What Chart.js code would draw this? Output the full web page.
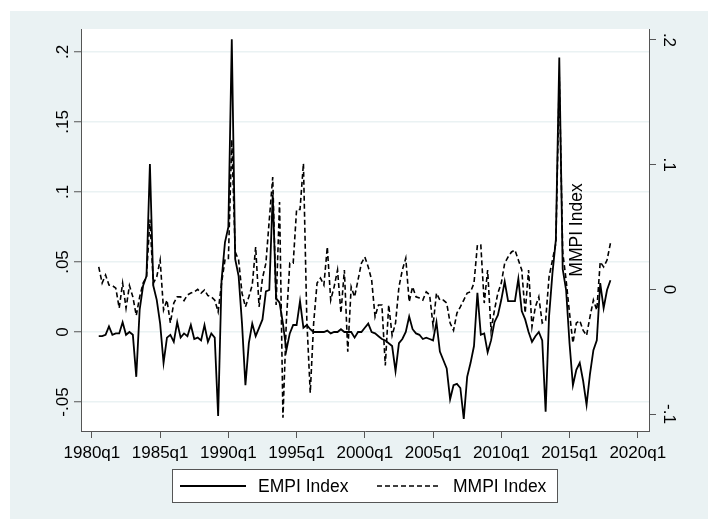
<!DOCTYPE html>
<html>
<head>
<meta charset="utf-8">
<script src="https://cdn.jsdelivr.net/npm/chart.js@4.4.1/dist/chart.umd.min.js"></script>
<style>
  html, body { margin: 0; padding: 0; background: #fff; }
  canvas { display: block; }
</style>
</head>
<body>
<canvas id="c" width="708" height="519"></canvas>
<script>
// quarterly series, first point is 1980q3 (quarter index 2 counted from 1980q1)
const FIRST_Q = 2;

const empi = [
  -0.003, -0.003, -0.002, 0.004, -0.002, -0.001, -0.001, 0.007, -0.002, 0.000,
  -0.002, -0.032, 0.016, 0.033, 0.040, 0.120, 0.033, 0.023, 0.006, -0.022,
  -0.004, -0.002, -0.007, 0.007, -0.004, -0.001, -0.003, 0.005, -0.005, -0.004,
  -0.006, 0.005, -0.007, -0.001, -0.004, -0.060, 0.037, 0.064, 0.075, 0.209,
  0.052, 0.040, 0.006, -0.038, -0.008, 0.006, -0.003, 0.003, 0.009, 0.029,
  0.030, 0.098, 0.024, 0.021, 0.006, -0.013, -0.001, 0.005, 0.005, 0.022,
  0.003, 0.005, 0.002, 0.000, 0.000, 0.000, 0.000, 0.001, -0.001, 0.000,
  0.000, 0.002, 0.000, 0.000, 0.000, -0.004, 0.000, 0.000, 0.003, 0.006,
  0.000, -0.001, -0.003, -0.005, -0.006, -0.008, -0.010, -0.028, -0.008, -0.005,
  0.000, 0.011, 0.002, -0.001, -0.002, -0.005, -0.004, -0.005, -0.006, 0.007,
  -0.014, -0.020, -0.026, -0.048, -0.038, -0.037, -0.040, -0.062, -0.032, -0.022,
  -0.010, 0.028, -0.002, -0.001, -0.0145, -0.006, 0.007, 0.012, 0.023, 0.036,
  0.022, 0.022, 0.022, 0.038, 0.015, 0.009, 0.000, -0.007, -0.003, 0.000,
  -0.006, -0.057, 0.011, 0.042, 0.066, 0.196, 0.045, 0.030, -0.008, -0.038,
  -0.027, -0.022, -0.035, -0.052, -0.030, -0.013, -0.006, 0.035, 0.017, 0.030,
  0.037
];

const mmpi = [
  0.018, 0.005, 0.0115, 0.0035, 0.003, 0.001, -0.015, 0.005, -0.015, 0.003,
  -0.006, -0.021, -0.006, 0.005, 0.010, 0.056, 0.005, 0.010, 0.0235, -0.0166,
  -0.0086, -0.027, -0.011, -0.006, -0.006, -0.009, -0.0045, -0.003, -0.002, 0.000,
  -0.003, -0.0005, -0.005, -0.006, -0.0086, -0.018, 0.005, 0.0235, 0.024, 0.120,
  0.030, 0.0235, -0.003, -0.014, -0.006, 0.0035, 0.034, -0.014, 0.009, 0.021,
  0.056, 0.090, -0.0125, 0.070, -0.103, -0.025, 0.021, 0.021, 0.064, 0.064,
  0.101, -0.025, -0.083, -0.027, 0.005, 0.009, 0.0035, 0.034, -0.0086, 0.002,
  0.0155, -0.019, 0.0155, -0.050, 0.002, -0.006, 0.0075, 0.021, 0.026, 0.018,
  0.0075, -0.022, -0.0125, -0.0125, -0.061, -0.0125, -0.037, -0.027, 0.002, 0.0155,
  0.025, -0.010, 0.002, -0.006, -0.007, -0.0086, -0.002, -0.0045, -0.029, -0.003,
  -0.0086, -0.0086, -0.011, -0.027, -0.033, -0.019, -0.014, -0.0086, -0.003, -0.002,
  0.005, 0.0356, 0.0356, -0.011, 0.0155, -0.033, -0.0166, -0.003, 0.005, 0.021,
  0.026, 0.030, 0.0315, 0.0235, 0.0155, -0.019, 0.0155, -0.030, -0.014, -0.006,
  -0.027, -0.025, 0.010, 0.0235, 0.037, 0.170, 0.030, 0.0075, -0.019, -0.043,
  -0.027, -0.025, -0.033, -0.037, -0.022, -0.0086, -0.0166, 0.022, 0.018, 0.0235,
  0.037
];

const xTickLabels = ['1980q1', '1985q1', '1990q1', '1995q1', '2000q1', '2005q1', '2010q1', '2015q1', '2020q1'];
const leftTicks = [-0.05, 0, 0.05, 0.1, 0.15, 0.2];
const rightTicks = [-0.1, 0, 0.1, 0.2];

const FONT = '"Liberation Sans", Arial, sans-serif';
const BG = '#eaf2f3';
const AXIS = '#555555';

// quarter label -> index from 1980q1
function qIndex(lbl) {
  const y = parseInt(lbl.slice(0, 4), 10);
  const q = parseInt(lbl.slice(5), 10);
  return (y - 1980) * 4 + (q - 1);
}

// stata style numbers: .2, -.05, 0
function fmt(v) {
  return String(v).replace(/^(-?)0\./, '$1.');
}

const toPoints = arr => arr.map((v, i) => ({ x: FIRST_Q + i, y: v }));

const backdrop = {
  id: 'backdrop',
  beforeDraw(chart) {
    const { ctx, chartArea: a } = chart;
    ctx.save();
    ctx.fillStyle = '#fff';
    ctx.fillRect(0, 0, chart.width, chart.height);
    ctx.fillStyle = BG;
    ctx.fillRect(10, 11, chart.width - 10, chart.height - 11);
    ctx.fillStyle = '#fff';
    ctx.fillRect(a.left, a.top, a.right - a.left, a.bottom - a.top);
    ctx.restore();
  }
};

const labels = {
  id: 'labels',
  afterDraw(chart) {
    const { ctx, scales } = chart;
    ctx.save();
    ctx.fillStyle = '#000';
    ctx.font = '17px ' + FONT;

    // x tick labels
    ctx.textAlign = 'center';
    ctx.textBaseline = 'alphabetic';
    xTickLabels.forEach(l => {
      ctx.fillText(l, scales.x.getPixelForValue(qIndex(l)), 458);
    });

    // left axis labels, rotated counter-clockwise
    leftTicks.forEach(v => {
      const y = scales.yL.getPixelForValue(v);
      ctx.save();
      ctx.translate(68, y);
      ctx.rotate(-Math.PI / 2);
      ctx.textAlign = 'center';
      ctx.fillText(fmt(v), 0, 0);
      ctx.restore();
    });

    // right axis labels, rotated clockwise
    rightTicks.forEach(v => {
      const y = scales.yR.getPixelForValue(v);
      ctx.save();
      ctx.translate(664, y);
      ctx.rotate(Math.PI / 2);
      ctx.textAlign = 'center';
      ctx.fillText(fmt(v), 0, 0);
      ctx.restore();
    });

    // right axis title ends up inside the plot
    ctx.save();
    ctx.translate(582, 230);
    ctx.rotate(-Math.PI / 2);
    ctx.textAlign = 'center';
    ctx.font = '17.5px ' + FONT;
    ctx.fillText('MMPI Index', 0, 0);
    ctx.restore();

    // legend
    const lx = 172, ly = 469, lw = 386, lh = 34;
    ctx.fillStyle = '#fff';
    ctx.fillRect(lx, ly, lw, lh);
    ctx.strokeStyle = AXIS;
    ctx.lineWidth = 1;
    ctx.strokeRect(lx + 0.5, ly + 0.5, lw - 1, lh - 1);

    const my = ly + lh / 2;
    ctx.strokeStyle = '#000';
    ctx.lineWidth = 1.8;
    ctx.beginPath();
    ctx.moveTo(180, my);
    ctx.lineTo(246, my);
    ctx.stroke();
    ctx.lineWidth = 1.6;
    ctx.setLineDash([5, 3]);
    ctx.beginPath();
    ctx.moveTo(377, my);
    ctx.lineTo(441, my);
    ctx.stroke();
    ctx.setLineDash([]);

    ctx.fillStyle = '#000';
    ctx.font = '17.5px ' + FONT;
    ctx.textAlign = 'left';
    ctx.textBaseline = 'middle';
    ctx.fillText('EMPI Index', 258, my + 1);
    ctx.fillText('MMPI Index', 453, my + 1);
    ctx.restore();
  }
};

const ctx = document.getElementById('c').getContext('2d');
new Chart(ctx, {
  type: 'line',
  data: {
    datasets: [
      {
        label: 'EMPI Index',
        data: toPoints(empi),
        yAxisID: 'yL',
        borderColor: '#000',
        borderWidth: 1.8,
        pointRadius: 0,
        tension: 0
      },
      {
        label: 'MMPI Index',
        data: toPoints(mmpi),
        yAxisID: 'yR',
        borderColor: '#000',
        borderWidth: 1.6,
        borderDash: [5, 3],
        pointRadius: 0,
        tension: 0
      }
    ]
  },
  options: {
    responsive: false,
    animation: false,
    devicePixelRatio: 1,
    layout: { padding: { top: 29, left: 0, right: 0, bottom: 0 } },
    plugins: { legend: { display: false }, tooltip: { enabled: false } },
    scales: {
      x: {
        type: 'linear',
        min: -3.2,
        max: 163.3,
        afterBuildTicks: s => { s.ticks = xTickLabels.map(l => ({ value: qIndex(l) })); },
        afterFit: s => { s.height = 88; },
        ticks: { display: false },
        grid: { drawOnChartArea: false, color: AXIS, tickLength: 7, lineWidth: 1 },
        border: { color: AXIS, width: 1 }
      },
      yL: {
        position: 'left',
        min: -0.0707,
        max: 0.2164,
        afterBuildTicks: s => { s.ticks = leftTicks.map(v => ({ value: v })); },
        afterFit: s => { s.width = 81; },
        ticks: { display: false },
        grid: { color: BG, lineWidth: 1.5, tickColor: AXIS, tickWidth: 1, tickLength: 7 },
        border: { color: AXIS, width: 1 }
      },
      yR: {
        position: 'right',
        min: -0.1136,
        max: 0.2088,
        afterBuildTicks: s => { s.ticks = rightTicks.map(v => ({ value: v })); },
        afterFit: s => { s.width = 59; },
        ticks: { display: false },
        grid: { drawOnChartArea: false, color: AXIS, tickLength: 7, lineWidth: 1 },
        border: { color: AXIS, width: 1 }
      }
    }
  },
  plugins: [backdrop, labels]
});
</script>
</body>
</html>
